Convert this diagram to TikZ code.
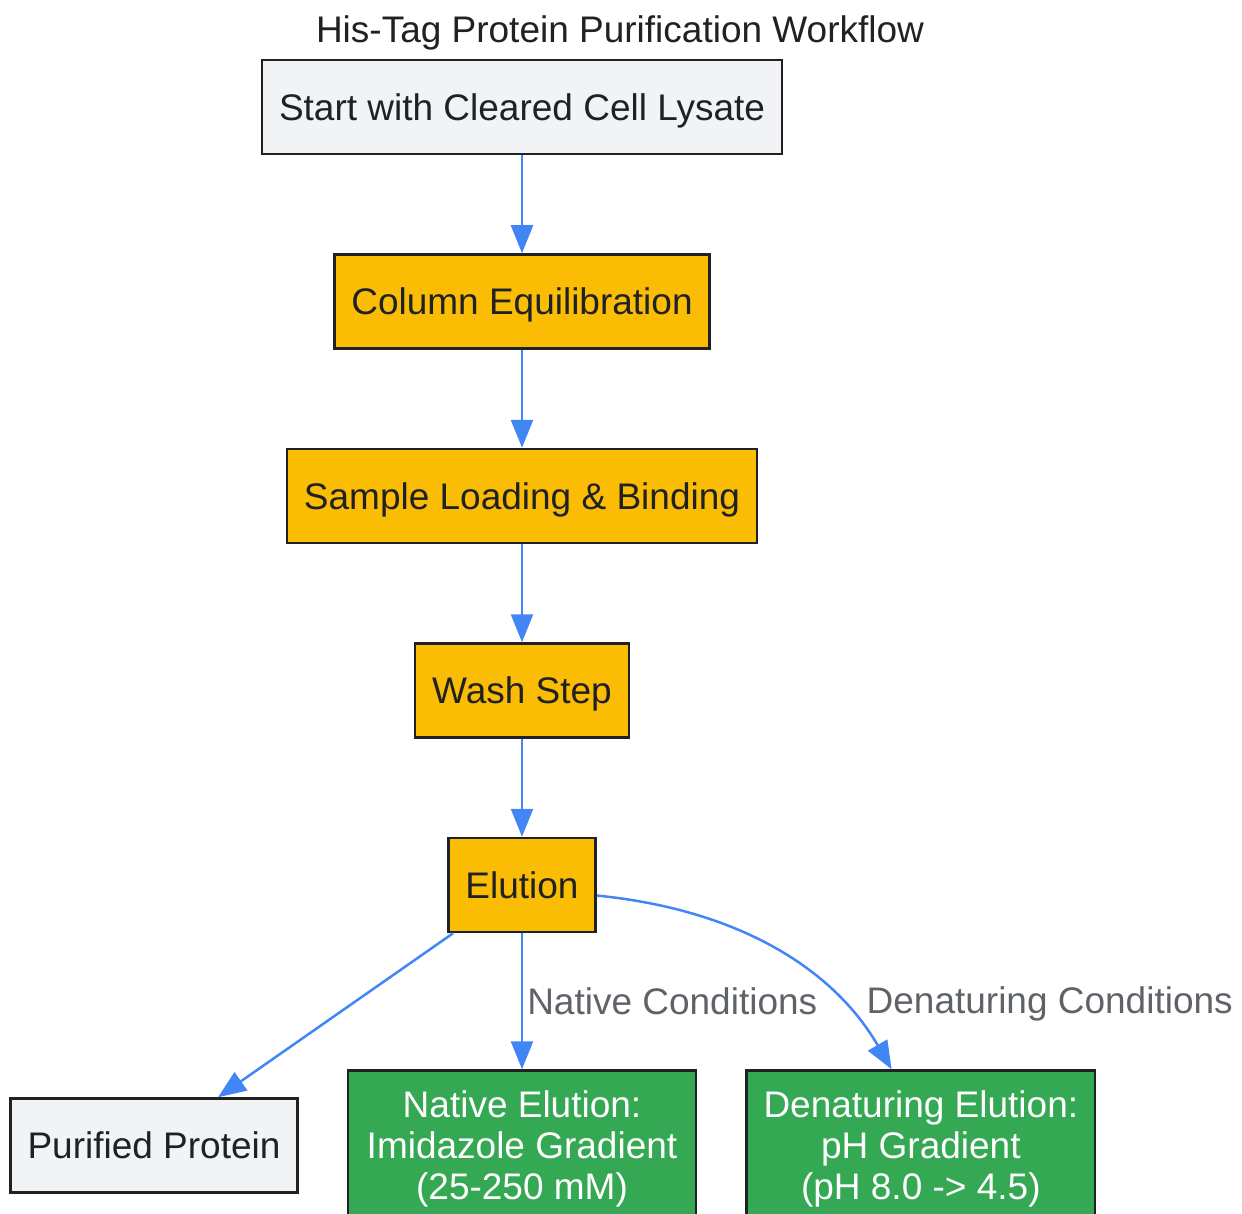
\documentclass[tikz,border=0pt]{standalone}
\usepackage{fontspec}
\setmainfont{Liberation Sans}
\usetikzlibrary{arrows.meta, positioning}

\definecolor{boxgray}{HTML}{F1F3F4}
\definecolor{boxline}{HTML}{202124}
\definecolor{stepyellow}{HTML}{FBBC04}
\definecolor{endgreen}{HTML}{34A853}
\definecolor{flowblue}{HTML}{4285F4}
\definecolor{labelgray}{HTML}{5F6368}

\begin{document}
\begin{tikzpicture}[x=1pt, y=-1pt]
	\tikzset{
		basenode/.style={rectangle, draw=boxline, line width=2.5pt, minimum height=94pt, inner xsep=17pt, text depth=0pt, text=boxline, font=\fontsize{37}{41}\selectfont, align=center},
		startnode/.style={basenode, fill=boxgray},
		stepnode/.style={basenode, fill=stepyellow},
		endnode/.style={basenode, fill=endgreen, text=white, minimum width=348pt, minimum height=150pt},
		flow/.style={draw=flowblue, line width=2.5pt, -{Triangle[length=28pt, width=22pt]}},
		edgelabel/.style={text=labelgray, inner sep=2pt, font=\fontsize{37}{41}\selectfont},
	}
	\useasboundingbox (0,0) rectangle (1242,1214);

	\node[text=boxline, font=\fontsize{37}{41}\selectfont] (title) at (620,33) {His-Tag Protein Purification Workflow};

	\node[startnode] (start) at (522,107) {Start with Cleared Cell Lysate};
	\node[stepnode, below = 98pt of start] (equil) {Column Equilibration};
	\node[stepnode, below = 98pt of equil] (load) {Sample Loading \& Binding};
	\node[stepnode, below = 98pt of load] (wash) {Wash Step};
	\node[stepnode, below = 98pt of wash] (elution) {Elution};

	\draw[flow] (start.south) -- (equil.north);
	\draw[flow] (equil.south) -- (load.north);
	\draw[flow] (load.south) -- (wash.north);
	\draw[flow] (wash.south) -- (elution.north);

	\node[endnode, below = 136pt of elution] (native) {Native Elution:\\Imidazole Gradient\\(25-250 mM)};
	\node[endnode, right = 48pt of native] (denat) {Denaturing Elution:\\pH Gradient\\(pH 8.0 -> 4.5)};
	\node[startnode, left = 48pt of native] (purified) {Purified Protein};

	\draw[flow] (elution.215) -- (purified.37);
	\draw[flow] (elution.south) -- node[edgelabel, midway, right = 2pt] {Native Conditions} (native.north);
	\draw[flow] (elution.-8) .. controls +(150,15) and +(-55,-95) .. node[edgelabel, pos=0.75, right = 20pt] {Denaturing Conditions} (denat.111);
\end{tikzpicture}
\end{document}
